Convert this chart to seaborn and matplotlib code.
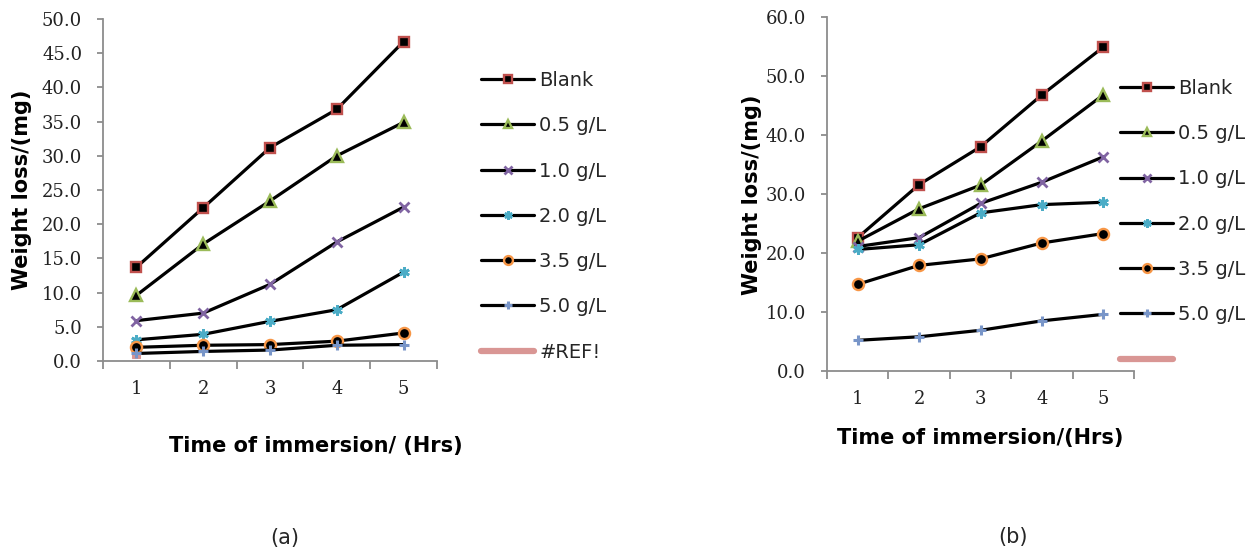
import numpy as np
import pandas as pd
import matplotlib
matplotlib.use("Agg")
import matplotlib.pyplot as plt
from matplotlib.lines import Line2D
from matplotlib.ticker import FormatStrFormatter, FixedLocator
import seaborn as sns

sns.set_theme(style="white")
plt.rcParams["font.family"] = ["DejaVu Sans"]

# Immersion times (hours)
hours = [1, 2, 3, 4, 5]
series_labels = ["Blank", "0.5 g/L", "1.0 g/L", "2.0 g/L", "3.5 g/L", "5.0 g/L"]

# Panel (a): weight loss (mg)
a_blank = [13.7, 22.4, 31.2, 36.8, 46.7]
a_05 = [9.6, 17.1, 23.4, 30.0, 34.9]
a_10 = [5.9, 7.0, 11.2, 17.4, 22.5]
a_20 = [3.1, 3.9, 5.8, 7.5, 13.0]
a_35 = [2.0, 2.3, 2.4, 2.9, 4.1]
a_50 = [1.1, 1.4, 1.6, 2.3, 2.4]
a_ref_x = [1]
a_ref_y = [1.0]

# Panel (b): weight loss (mg)
b_blank = [22.6, 31.6, 38.0, 46.8, 54.9]
b_05 = [22.0, 27.5, 31.5, 39.0, 46.8]
b_10 = [21.1, 22.6, 28.4, 32.0, 36.3]
b_20 = [20.6, 21.4, 26.8, 28.2, 28.6]
b_35 = [14.7, 17.9, 19.0, 21.7, 23.3]
b_50 = [5.2, 5.8, 6.9, 8.5, 9.6]

ref_color = "#D99694"
line_w = 2.3
marker_styles = [
    dict(marker="s", markerfacecolor="black", markeredgecolor="#C0504D", markersize=7.5, markeredgewidth=1.7),
    dict(marker="^", markerfacecolor="black", markeredgecolor="#9BBB59", markersize=8, markeredgewidth=1.7),
    dict(marker="x", markerfacecolor="none", markeredgecolor="#8064A2", markersize=7, markeredgewidth=2.0),
    dict(marker=(6, 2, 0), markerfacecolor="none", markeredgecolor="#4BACC6", markersize=7.5, markeredgewidth=2.0),
    dict(marker="o", markerfacecolor="black", markeredgecolor="#F79646", markersize=8, markeredgewidth=1.7),
    dict(marker="+", markerfacecolor="none", markeredgecolor="#7895C8", markersize=7.5, markeredgewidth=2.2),
]

fig = plt.figure(figsize=(12.53, 5.5), dpi=100)
ax_a = fig.add_axes([103 / 1253, 1 - 361 / 550, 334 / 1253, 342 / 550])
ax_b = fig.add_axes([827 / 1253, 1 - 371 / 550, 307 / 1253, 354 / 550])


def draw_panel(ax, values, ymax, step, ref=None):
    for i, (lab, vals) in enumerate(zip(series_labels, values)):
        if ref is not None and i == len(values) - 1:
            sns.lineplot(x=ref[0], y=ref[1], ax=ax, color=ref_color, marker="s",
                         markersize=6, markeredgecolor=ref_color, linestyle="none",
                         legend=False, zorder=3)
        df = pd.DataFrame({"hours": hours, "loss": vals})
        sns.lineplot(data=df, x="hours", y="loss", ax=ax, color="black", linewidth=line_w,
                     legend=False, zorder=4, **marker_styles[i])
    ax.set_xlim(0.5, 5.5)
    ax.set_ylim(0, ymax)
    ax.yaxis.set_major_locator(FixedLocator(np.arange(0, ymax + 0.1, step)))
    ax.yaxis.set_major_formatter(FormatStrFormatter("%.1f"))
    ax.xaxis.set_major_locator(FixedLocator(hours))
    ax.xaxis.set_minor_locator(FixedLocator(np.arange(0.5, 5.6, 1.0)))
    for s in ["top", "right"]:
        ax.spines[s].set_visible(False)
    for s in ["left", "bottom"]:
        ax.spines[s].set_color("#8C8C8C")
        ax.spines[s].set_linewidth(1.3)
    ax.tick_params(axis="y", which="major", direction="out", length=4, width=1.3,
                   color="#8C8C8C", pad=11, left=True, labelsize=13, labelcolor="#222222")
    ax.tick_params(axis="x", which="major", length=0, pad=14, labelsize=13, labelcolor="#222222")
    ax.tick_params(axis="x", which="minor", direction="out", length=6, width=1.3,
                   color="#8C8C8C", bottom=True)
    for t in ax.get_xticklabels() + ax.get_yticklabels():
        t.set_fontfamily("DejaVu Serif")
    ax.set_facecolor("white")


draw_panel(ax_a, [a_blank, a_05, a_10, a_20, a_35, a_50], 50, 5, ref=(a_ref_x, a_ref_y))
draw_panel(ax_b, [b_blank, b_05, b_10, b_20, b_35, b_50], 60, 10)

# Axis titles
ax_a.set_xlabel("Time of immersion/ (Hrs)", fontsize=15, fontweight="bold", color="black")
ax_a.xaxis.label.set_va("center")
ax_a.xaxis.set_label_coords(0.638, -0.249)
ax_a.set_ylabel("Weight loss/(mg)", fontsize=15, fontweight="bold", color="black")
ax_a.yaxis.label.set(va="center", ha="center")
ax_a.yaxis.set_label_coords(-0.243, 0.50)

ax_b.set_xlabel("Time of immersion/(Hrs)", fontsize=15, fontweight="bold", color="black")
ax_b.xaxis.label.set_va("center")
ax_b.xaxis.set_label_coords(0.498, -0.189)
ax_b.set_ylabel("Weight loss/(mg)", fontsize=15, fontweight="bold", color="black")
ax_b.yaxis.label.set(va="center", ha="center")
ax_b.yaxis.set_label_coords(-0.244, 0.497)

# Legends
handles = [Line2D([], [], color="black", linewidth=line_w, **ms) for ms in marker_styles]
ref_handle = Line2D([], [], color=ref_color, linewidth=4.5, solid_capstyle="round")
leg_kw = dict(frameon=False, fontsize=14, handlelength=2.75, handletextpad=0.25,
              labelspacing=1.35, borderpad=0, borderaxespad=0, loc="upper left",
              markerscale=0.8)
fig.legend(handles + [ref_handle], series_labels + ["#REF!"],
           bbox_to_anchor=(481 / 1253, 1 - 71 / 550), **leg_kw)
fig.legend(handles + [ref_handle], series_labels + [""],
           bbox_to_anchor=(1120 / 1253, 1 - 79 / 550), **leg_kw)

fig.text(285 / 1253, 1 - 538 / 550, "(a)", ha="center", va="center", fontsize=15)
fig.text(1013 / 1253, 1 - 537 / 550, "(b)", ha="center", va="center", fontsize=15)

fig.savefig("out.png", dpi=100, facecolor="white")
